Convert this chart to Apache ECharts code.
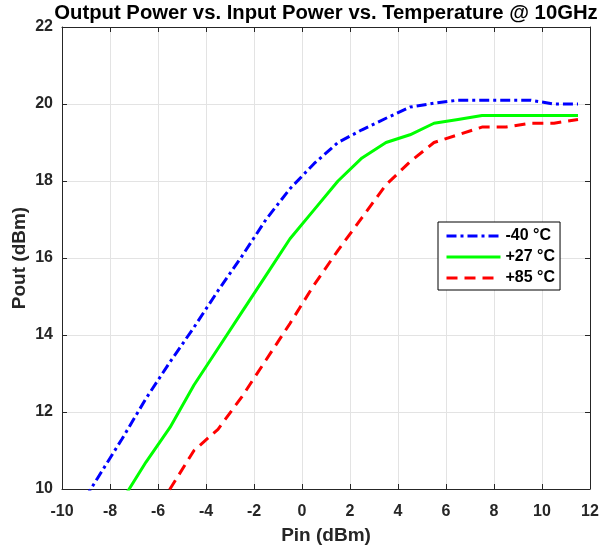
<!DOCTYPE html>
<html><head><meta charset="utf-8">
<script src="https://cdn.jsdelivr.net/npm/echarts@6/dist/echarts.min.js"></script>
<style>html,body{margin:0;padding:0;background:#fff}#c{width:602px;height:550px}</style>
</head><body><div id="c"></div>
<script>
const pin = [-9.5,-8.5,-7.5,-6.5,-5.5,-4.5,-3.5,-2.5,-1.5,-0.5,0.5,1.5,2.5,3.5,4.5,5.5,6.5,7.5,8.5,9.5,10.5,11.5];
const poutM40 = [9.3,10.3,11.3,12.35,13.3,14.2,15.15,16.05,17.0,17.8,18.45,19.0,19.33,19.63,19.92,20.02,20.1,20.1,20.1,20.1,20.0,20.0];
const poutP27 = [7.7,8.7,9.7,10.7,11.6,12.7,13.65,14.6,15.55,16.5,17.25,18.0,18.6,19.0,19.2,19.5,19.6,19.7,19.7,19.7,19.7,19.7];
const poutP85 = [null,null,8.0,9.0,10.0,11.0,11.55,12.4,13.35,14.3,15.3,16.2,17.05,17.9,18.5,19.0,19.2,19.4,19.4,19.5,19.5,19.6];
const seriesNames = ['-40 °C','+27 °C','+85 °C'];
const xTicks = {min:-10,max:12,interval:2};
const yTicks = {min:10,max:22,interval:2};

const toPairs = ys => pin.map((x,i)=>[x,ys[i]]);
const axisCol = '#262626';
const font = 'Liberation Sans, Arial, sans-serif';
const chart = echarts.init(document.getElementById('c'));
const mkX = (show, pos) => ({type:'value', position:pos, min:xTicks.min, max:xTicks.max, interval:xTicks.interval,
  axisLine:{show:true,onZero:false,lineStyle:{color:axisCol,width:1}},
  axisTick:{show:true,inside:true,length:5,lineStyle:{color:axisCol}},
  axisLabel:{show:show,color:axisCol,fontWeight:'bold',fontSize:16,fontFamily:font,margin:15},
  splitLine:{show:show,lineStyle:{color:'#e3e3e3',width:1}},
  name: show?'Pin (dBm)':'', nameLocation:'middle', nameGap:37,
  nameTextStyle:{color:axisCol,fontWeight:'bold',fontSize:19,fontFamily:font}});
const mkY = (show, pos) => ({type:'value', position:pos, min:yTicks.min, max:yTicks.max, interval:yTicks.interval,
  axisLine:{show:true,onZero:false,lineStyle:{color:axisCol,width:1}},
  axisTick:{show:true,inside:true,length:5,lineStyle:{color:axisCol}},
  axisLabel:{show:show,color:axisCol,fontWeight:'bold',fontSize:16,fontFamily:font,margin:9},
  splitLine:{show:show,lineStyle:{color:'#e3e3e3',width:1}}});
chart.setOption({
  animation:false,
  title:{text:'Output Power vs. Input Power vs. Temperature @ 10GHz', left:321, top:-2, textAlign:'center',
    textStyle:{color:'#000',fontWeight:'bold',fontSize:20.3,fontFamily:font}},
  grid:{left:62,right:12,top:27,bottom:61,containLabel:false,outerBoundsMode:'none'},
  xAxis:[mkX(true,'bottom'), mkX(false,'top')],
  yAxis:[mkY(true,'left'), mkY(false,'right')],
  graphic:[{type:'text', x:20, y:258, rotation:Math.PI/2,
    style:{text:'Pout (dBm)', align:'center', verticalAlign:'middle', fill:axisCol,
      fontWeight:'bold', fontSize:19, fontFamily:font}}],
  legend:{orient:'vertical', left:438, top:222, backgroundColor:'#fff', borderColor:'#000', borderWidth:1,
    padding:[6,5,4,7], itemGap:5, itemWidth:54, itemHeight:14,
    itemStyle:{opacity:0}, lineStyle:{width:3},
    textStyle:{color:'#000',fontWeight:'bold',fontSize:16,fontFamily:font},
    data:seriesNames},
  series:[
    {name:seriesNames[0],type:'line',data:toPairs(poutM40),symbol:'none',clip:true,
     lineStyle:{color:'#0000ff',width:3,type:[10,4,3,4]},itemStyle:{color:'#0000ff'}},
    {name:seriesNames[1],type:'line',data:toPairs(poutP27),symbol:'none',clip:true,
     lineStyle:{color:'#00ff00',width:3,type:'solid'},itemStyle:{color:'#00ff00'}},
    {name:seriesNames[2],type:'line',data:toPairs(poutP85),symbol:'none',clip:true,
     lineStyle:{color:'#ff0000',width:3,type:[11,7]},itemStyle:{color:'#ff0000'}}
  ]
});
</script></body></html>
